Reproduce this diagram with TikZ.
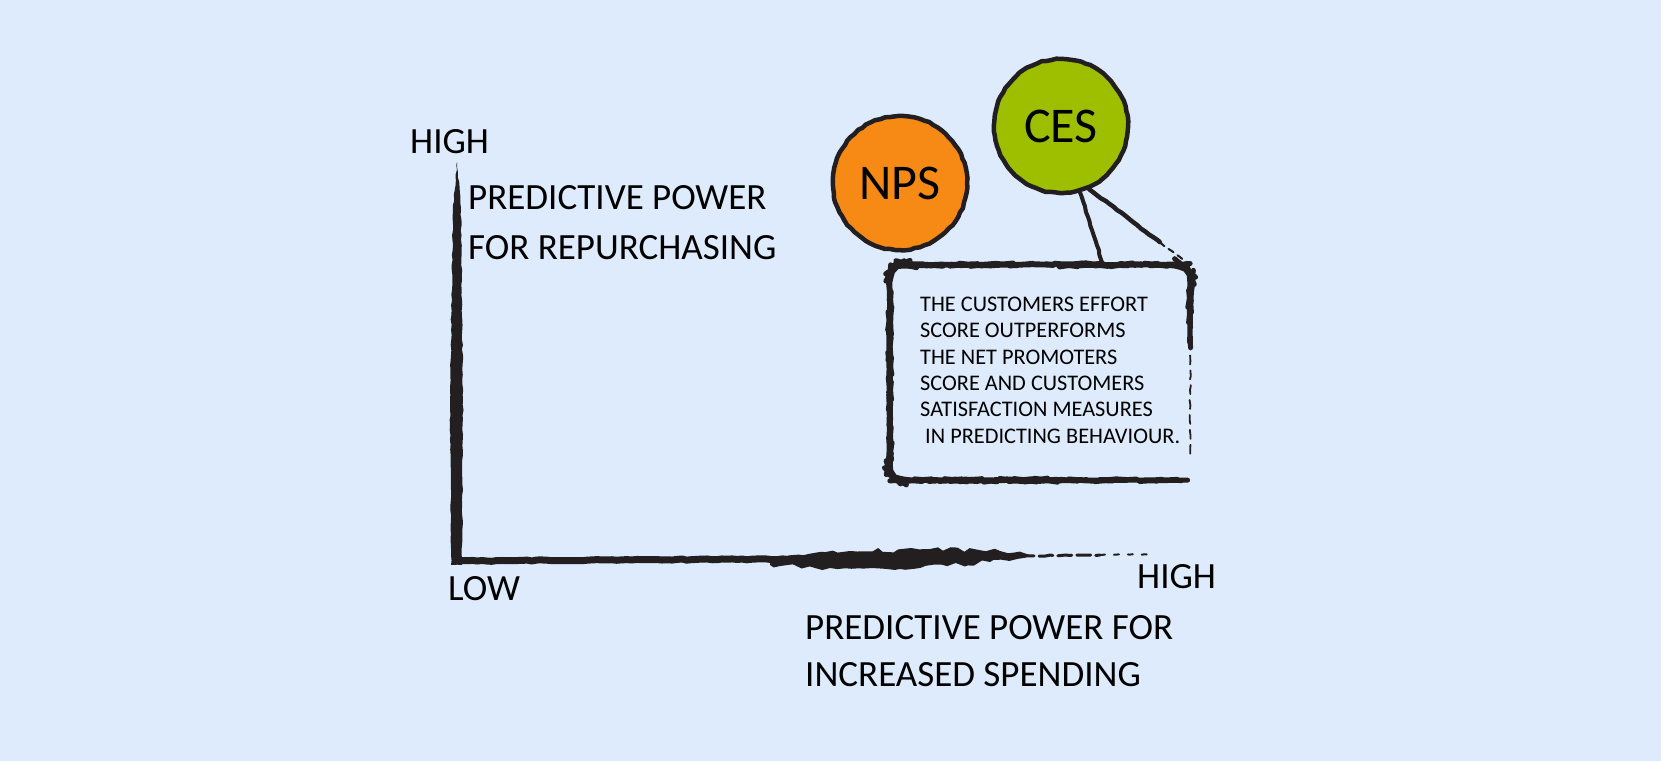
\documentclass[tikz,border=0pt]{standalone}
\usepackage{fontspec}
\setmainfont{Carlito}
\usetikzlibrary{calc,decorations.pathmorphing}

\definecolor{bgblue}{RGB}{221,235,252}
\definecolor{ink}{RGB}{35,31,32}
\definecolor{npsorange}{RGB}{246,138,20}
\definecolor{cesgreen}{RGB}{157,191,0}

\tikzset{
  rough/.style={decorate, decoration={random steps, segment length=5pt, amplitude=0.6pt}},
  brush/.style={draw=ink, line width=#1, line cap=round, line join=round, rough},
  brush/.default=4pt,
  bubble/.style={circle, minimum size=134pt, inner sep=0pt, draw=ink, line width=4.5pt, rough,
    font=\fontsize{50}{50}\selectfont},
  axislabel/.style={inner sep=0pt, align=left, font=\fontsize{37}{50}\selectfont},
  notetext/.style={inner sep=0pt, align=left, font=\fontsize{22.3}{26.3}\selectfont},
}

\begin{document}
\begin{tikzpicture}[x=1pt, y=-1pt]
  \pgfmathsetseed{42}
  \fill[bgblue] (0,0) rectangle (1661,761);
  \useasboundingbox (0,0) rectangle (1661,761);

  % axes
  \coordinate (origin) at (457,561);
  \fill[ink, rough] (457,162) -- (461,210) -- (463,400) -- (462,565)
      -- (451,565) -- (450,400) -- (453,210) -- cycle;
  \draw[brush=7pt] (origin) -- (790,559);
  \fill[ink, decorate, decoration={random steps, segment length=7pt, amplitude=2.5pt}]
      (770,557) -- (850,551) -- (930,549) -- (1000,551) -- (1030,555)
      -- (990,562) -- (900,569) -- (830,568) -- (770,565) -- cycle;
  \draw[brush=3pt, dash pattern=on 14pt off 5pt] (1020,556) -- (1100,555);
  \draw[brush=2pt, dash pattern=on 5pt off 9pt] (1100,555) -- (1155,554);

  % axis labels
  \node[axislabel, anchor=base west] (yhigh) at (410,153) {HIGH};
  \node[axislabel, anchor=north west] (ytitle) at (468,185) {PREDICTIVE POWER\\FOR REPURCHASING};
  \node[axislabel, anchor=base west] (xlow) at (448,600) {LOW};
  \node[axislabel, anchor=base west] (xhigh) at (1137,588) {HIGH};
  \node[axislabel, anchor=north west, font=\fontsize{37}{47}\selectfont] (xtitle) at (805,615)
      {PREDICTIVE POWER FOR\\INCREASED SPENDING};

  % scores
  \node[bubble, fill=npsorange] (nps) at (900,183) {NPS};
  \node[bubble, fill=cesgreen] (ces) at (1061,126) {CES};

  % callout
  \node[minimum width=300pt, minimum height=215pt, inner sep=0pt] (note) at (1040,372.5) {};
  \node[notetext, anchor=north west] (notetxt) at (920,297)
      {THE CUSTOMERS EFFORT\\SCORE OUTPERFORMS\\THE NET PROMOTERS\\SCORE AND CUSTOMERS\\
       SATISFACTION MEASURES\\\hspace*{5pt}IN PREDICTING BEHAVIOUR.};
  \draw[brush=5pt, rounded corners=14pt] ([xshift=-12pt]note.south east) -- (note.south west)
      -- (note.north west) -- (note.north east) -- ([yshift=32pt]note.east);
  \draw[brush=1.8pt, dash pattern=on 9pt off 6pt] ([yshift=32pt]note.east) -- ([yshift=-85pt]note.east);

  \coordinate (tipL) at (1103,265);
  \draw[brush=4pt] (ces.-74) -- (tipL);
  \draw[brush=4.5pt] (ces.-66) -- ($(ces.-66)!0.7!(note.north east)$) coordinate (tipR);
  \draw[brush=2pt, dash pattern=on 6pt off 5pt] (tipR) -- (note.north east);
\end{tikzpicture}
\end{document}
